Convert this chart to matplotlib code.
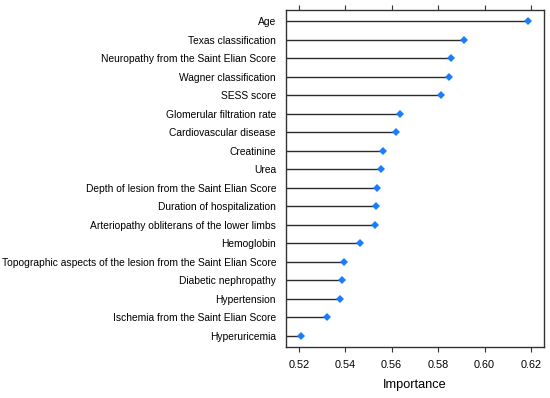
import matplotlib
matplotlib.use("Agg")
import matplotlib.pyplot as plt

features = [
    "Age", "Texas classification", "Neuropathy from the Saint Elian Score",
    "Wagner classification", "SESS score", "Glomerular filtration rate",
    "Cardiovascular disease", "Creatinine", "Urea",
    "Depth of lesion from the Saint Elian Score", "Duration of hospitalization",
    "Arteriopathy obliterans of the lower limbs", "Hemoglobin",
    "Topographic aspects of the lesion from the Saint Elian Score",
    "Diabetic nephropathy", "Hypertension", "Ischemia from the Saint Elian Score",
    "Hyperuricemia",
]
importance = [0.6188, 0.5913, 0.5856, 0.5846, 0.5811, 0.5636, 0.5618, 0.5562,
              0.5554, 0.5536, 0.5533, 0.5530, 0.5465, 0.5394, 0.5388, 0.5379,
              0.5323, 0.5210]
xticks = [0.52, 0.54, 0.56, 0.58, 0.60, 0.62]

plt.rcParams['font.family'] = ['Liberation Sans', 'DejaVu Sans']

fig = plt.figure(figsize=(5.5, 3.98), dpi=100)
ax = fig.add_axes([0.5195, 0.1281, 0.989 - 0.5195, 0.9749 - 0.1281])

n = len(features)
ypos = list(range(n, 0, -1))
xmin, xmax = 0.5144, 0.6256
ax.hlines(ypos, xmin, importance, color="#2b2b2b", lw=1.0)
ax.plot(importance, ypos, "D", color="#1a7cff", ms=4, mew=0, ls="none")

ax.set_xlim(xmin, xmax)
ax.set_ylim(0.4, n + 0.6)
ax.set_yticks(ypos)
ax.set_yticklabels(features, fontsize=7.4)
ax.tick_params(axis="y", length=0, pad=7)
ax.set_xticks(xticks)
ax.set_xticklabels([f"{t:.2f}" for t in xticks], fontsize=7.8)
ax.tick_params(axis="x", top=True, direction="out", length=3.6, width=0.8,
               color="#333333", pad=5.5)
for s in ax.spines.values():
    s.set_color("#333333")
    s.set_linewidth(1.0)
ax.set_xlabel("Importance", fontsize=9.2, labelpad=7)

fig.savefig("out.png", dpi=100)
